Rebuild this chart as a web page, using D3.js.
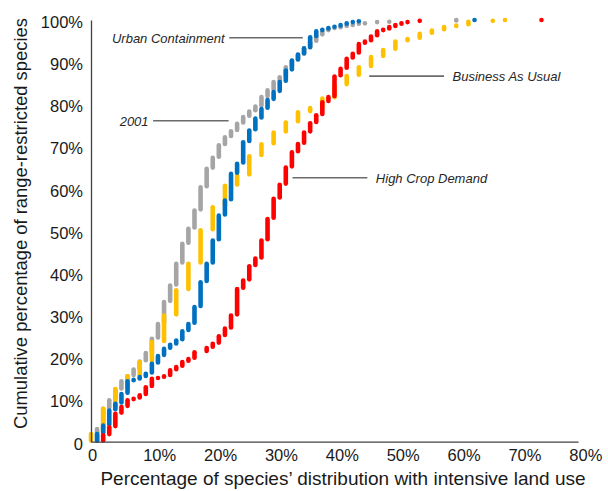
<!DOCTYPE html>
<html>
<head>
<meta charset="utf-8">
<script src="https://cdn.jsdelivr.net/npm/d3@7"></script>
<style>
  body { margin: 0; background: #ffffff; }
  svg { display: block; }
  text { font-family: "Liberation Sans", Arial, sans-serif; }
</style>
</head>
<body>
<svg id="chart" width="608" height="491"></svg>
<script>
// ---------- data ----------
const xTicks = [0, 10, 20, 30, 40, 50, 60, 70, 80];
const yTicks = [0, 10, 20, 30, 40, 50, 60, 70, 80, 90, 100];
const xTitle = "Percentage of species\u2019 distribution with intensive land use";
const yTitle = "Cumulative percentage of range-restricted species";

// 2001 (grey): % of distribution with intensive land use -> cumulative % of species
const base2001X = [1, 2, 3, 4, 5, 6, 7, 8, 9, 10, 11, 12, 13, 14, 15, 16, 17, 18, 19, 20,
  21, 22, 23, 24, 25, 26, 27, 28, 29, 30, 31, 32, 33, 34, 35, 36, 37, 38, 39, 40,
  41, 42, 43, 44, 45, 47, 49, 60];
const base2001Cum = [3.0, 7.8, 9.8, 12.3, 14.3, 15.5, 17.1, 19.0, 21.0, 24.4, 27.9, 33.1, 37.0, 42.2, 46.9, 50.5, 54.8, 60.3, 64.7, 67.3,
  70.3, 72.2, 73.6, 75.4, 77.0, 78.3, 79.5, 81.7, 83.3, 85.3, 86.4, 88.8, 90.3, 91.7, 93.2, 94.8, 96.3, 97.3, 97.9, 98.1,
  98.3, 98.7, 98.8, 99.1, 99.2, 99.5, 99.6, 100];

// Business As Usual (yellow)
const bauX = [0, 2, 4, 6, 8, 10, 12, 14, 16, 18, 20, 22, 24, 26, 28, 30, 32, 34, 36, 38,
  40, 42, 44, 46, 48, 50, 52, 54, 56, 58, 60, 62, 66, 68];
const bauCum = [1.8, 7.8, 12.5, 15.5, 18.9, 23.6, 29.9, 35.9, 42.2, 50.1, 55.6, 60.7, 63.1, 67.7, 70.5, 73.3, 75.7, 78.1, 79.1, 81.4,
  84.5, 86.7, 88.8, 91.2, 92.9, 94.9, 95.5, 96.7, 97.5, 98.3, 98.7, 99.6, 99.8, 100];

// Urban Containment (blue)
const urbanX = [1, 2, 3, 4, 5, 6, 7, 8, 9, 10, 11, 12, 13, 14, 15, 16, 17, 18, 19, 20,
  21, 22, 23, 24, 25, 26, 27, 28, 29, 30, 31, 32, 33, 34, 35, 36, 37, 38, 39, 40,
  41, 42, 43, 44, 63];
const urbanCum = [1.8, 3.8, 7.4, 9.0, 11.3, 14.3, 14.7, 15.3, 16.1, 18.5, 20.3, 22.0, 23.0, 24.0, 26.2, 27.9, 31.9, 37.8, 42.2, 47.7,
  53.6, 57.2, 63.5, 65.9, 71.0, 73.8, 76.6, 78.9, 81.0, 82.9, 85.3, 88.0, 90.4, 91.8, 93.3, 95.9, 97.3, 97.7, 98.1, 98.4,
  98.8, 99.2, 99.5, 99.7, 100];

// High Crop Demand (red)
const cropX = [2, 3, 4, 5, 6, 7, 8, 9, 10, 11, 12, 13, 14, 15, 16, 17, 19, 20,
  21, 22, 23, 24, 25, 26, 27, 28, 29, 30, 31, 32, 33, 34, 35, 36, 37, 38, 39, 40,
  41, 42, 43, 44, 45, 46, 47, 48, 49, 50, 51, 52, 54, 74];
const cropCum = [1.5, 3.4, 6.6, 8.2, 9.8, 10.2, 11.0, 12.9, 14.9, 15.1, 15.5, 16.9, 17.7, 18.9, 19.6, 21.2, 22.2, 23.2,
  25.0, 26.8, 29.9, 36.2, 38.2, 41.6, 43.4, 47.7, 52.8, 57.6, 60.9, 65.0, 68.6, 70.6, 73.3, 75.5, 77.4, 80.5, 81.7, 86.6,
  88.4, 90.8, 92.0, 94.3, 94.9, 96.1, 97.3, 97.7, 98.3, 98.8, 99.2, 99.5, 99.8, 100];

const seriesNames = ["2001", "Business As Usual", "Urban Containment", "High Crop Demand"];

// annotation labels (in data units)
const annotations = [
  { text: "Urban Containment", x0: 22.7, x1: 34.8, y: 95.8, side: "left" },
  { text: "2001",              x0: 10.2, x1: 22.6, y: 76.1, side: "left" },
  { text: "Business As Usual", x0: 45.7, x1: 58.0, y: 86.7, side: "right" },
  { text: "High Crop Demand",  x0: 33.1, x1: 45.4, y: 62.6, side: "right" }
];

// ---------- chart ----------
const series = [
  { name: seriesNames[0], x: base2001X, cum: base2001Cum, color: "#A5A5A5" },
  { name: seriesNames[1], x: bauX,      cum: bauCum,      color: "#FFC000" },
  { name: seriesNames[2], x: urbanX,    cum: urbanCum,    color: "#0070C0" },
  { name: seriesNames[3], x: cropX,     cum: cropCum,     color: "#FF0000" }
];

const svg = d3.select("#chart");
svg.append("rect").attr("width", 608).attr("height", 491).attr("fill", "#ffffff");

const x = d3.scaleLinear().domain([0, 80]).range([91, 578]);
const y = d3.scaleLinear().domain([0, 100]).range([441.7, 20]);
const fmt = v => v === 0 ? "0" : v + "%";

// marks
series.forEach(s => {
  const segs = s.x.map((xv, i) => ({ x: xv, lo: i === 0 ? 0 : s.cum[i - 1], hi: s.cum[i] }));
  svg.append("g")
    .selectAll("line")
    .data(segs)
    .join("line")
    .attr("x1", d => x(d.x))
    .attr("x2", d => x(d.x))
    .attr("y1", d => y(Math.min(d.lo + 0.3, d.hi)))
    .attr("y2", d => y(d.hi) - 0.01)
    .attr("stroke", s.color)
    .attr("stroke-width", 4.6)
    .attr("stroke-linecap", "round");
});

// axes
const gx = svg.append("g")
  .attr("transform", `translate(0,${y(0)})`)
  .call(d3.axisBottom(x).tickValues(xTicks).tickSize(0).tickPadding(8).tickFormat(fmt));
gx.select(".domain").attr("stroke", "#404040").attr("stroke-width", 1.3);
gx.selectAll("text")
  .attr("font-size", 16.5)
  .attr("fill", "#1a1a1a")
  .attr("font-family", "Liberation Sans, Arial, sans-serif")
  .attr("text-anchor", d => d === 0 ? "middle" : "start")
  .attr("dx", d => d === 0 ? 1 : -9.2);

const gy = svg.append("g")
  .attr("transform", `translate(${x(0)},0)`)
  .call(d3.axisLeft(y).tickValues(yTicks).tickSize(0).tickPadding(8).tickFormat(fmt));
gy.select(".domain").attr("stroke", "#404040").attr("stroke-width", 1.3);
gy.selectAll("text")
  .attr("font-size", 16.5)
  .attr("fill", "#1a1a1a")
  .attr("font-family", "Liberation Sans, Arial, sans-serif")
  .attr("dy", "0.45em");

// axis titles
svg.append("text")
  .attr("x", 343).attr("y", 485)
  .attr("text-anchor", "middle")
  .attr("font-size", 19)
  .attr("fill", "#1a1a1a")
  .text(xTitle);

svg.append("text")
  .attr("transform", "translate(27,223.5) rotate(-90)")
  .attr("text-anchor", "middle")
  .attr("font-size", 18.4)
  .attr("fill", "#1a1a1a")
  .text(yTitle);

// annotations
const ga = svg.append("g");
annotations.forEach(a => {
  ga.append("line")
    .attr("x1", x(a.x0)).attr("x2", x(a.x1))
    .attr("y1", y(a.y)).attr("y2", y(a.y))
    .attr("stroke", "#6b6b6b").attr("stroke-width", 1.6);
  ga.append("text")
    .attr("x", a.side === "left" ? x(a.x0) - 4.5 : x(a.x1) + 8.5)
    .attr("y", y(a.y) + 5.3)
    .attr("text-anchor", a.side === "left" ? "end" : "start")
    .attr("font-size", 13)
    .attr("font-style", "italic")
    .attr("fill", "#262626")
    .text(a.text);
});
</script>
</body>
</html>
